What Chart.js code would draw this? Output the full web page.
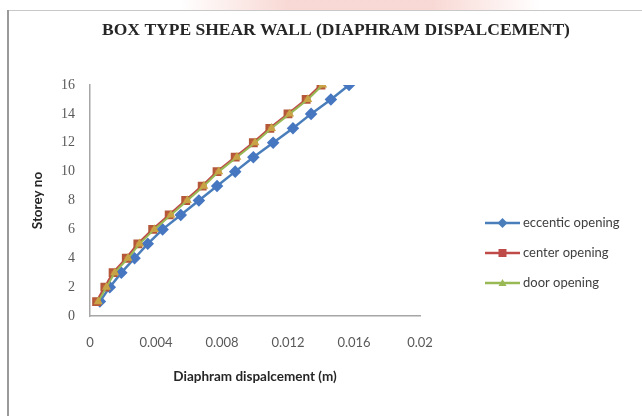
<!DOCTYPE html>
<html>
<head>
<meta charset="utf-8">
<script src="https://cdn.jsdelivr.net/npm/chart.js@4/dist/chart.umd.min.js"></script>
<style>
  html, body { margin: 0; padding: 0; background: #fff; }
  #wrap { position: relative; width: 642px; height: 416px; }
</style>
</head>
<body>
<div id="wrap"><canvas id="c" width="642" height="416"></canvas></div>
<script>
// Storey numbers and diaphragm displacement (m) per storey
const storeys = [1, 2, 3, 4, 5, 6, 7, 8, 9, 10, 11, 12, 13, 14, 15, 16];
const eccentricOpening = [0.0006, 0.0012, 0.0019, 0.0027, 0.0035, 0.0044, 0.0055, 0.0066,
                          0.0077, 0.0088, 0.0099, 0.0111, 0.0123, 0.0134, 0.0146, 0.0157];
const centerOpening = [0.0004, 0.0009, 0.0014, 0.0022, 0.0029, 0.0038, 0.0048, 0.0058,
                       0.0068, 0.0077, 0.0088, 0.0099, 0.0109, 0.0120, 0.0131, 0.0140];
const doorOpening = [0.0005, 0.0010, 0.0015, 0.0023, 0.0030, 0.0039, 0.0049, 0.0059,
                     0.0069, 0.0078, 0.0089, 0.0100, 0.0110, 0.0121, 0.0132, 0.0141];
const xTickLabels = ['0', '0.004', '0.008', '0.012', '0.016', '0.02'];
const yTickLabels = ['0', '2', '4', '6', '8', '10', '12', '14', '16'];
const seriesNames = ['eccentic opening', 'center opening', 'door opening'];

const BLUE = '#4A7EBB', RED = '#BE4B48', GREEN = '#98B954';

const toPoints = vals => vals.map((v, i) => ({ x: v, y: storeys[i] }));

// Frame, title and legend drawn around the plot
const decor = {
  id: 'decor',
  beforeDraw(chart) {
    const ctx = chart.ctx;
    ctx.save();
    ctx.fillStyle = '#ffffff';
    ctx.fillRect(0, 0, chart.width, chart.height);
    // faint band above the chart frame
    const g = ctx.createLinearGradient(180, 0, 540, 0);
    g.addColorStop(0, 'rgba(240,170,160,0)');
    g.addColorStop(0.3, 'rgba(240,170,160,0.45)');
    g.addColorStop(0.7, 'rgba(240,170,160,0.45)');
    g.addColorStop(1, 'rgba(240,170,160,0)');
    ctx.fillStyle = g;
    ctx.fillRect(180, 0, 360, 10);
    ctx.strokeStyle = '#c8c8c8';
    ctx.lineWidth = 1;
    ctx.beginPath();
    ctx.moveTo(8, 10.5); ctx.lineTo(chart.width, 10.5);
    ctx.stroke();
    ctx.strokeStyle = '#9a9a9a';
    ctx.lineWidth = 2;
    ctx.beginPath();
    ctx.moveTo(8, 10); ctx.lineTo(8, chart.height);
    ctx.stroke();
    ctx.restore();
  },
  afterDraw(chart) {
    const ctx = chart.ctx;
    ctx.save();
    // title
    ctx.fillStyle = '#262626';
    ctx.font = 'bold 17.5px "Liberation Serif", "Times New Roman", serif';
    ctx.textAlign = 'center';
    ctx.textBaseline = 'middle';
    ctx.fillText('BOX TYPE SHEAR WALL (DIAPHRAM DISPALCEMENT)', 336, 30);
    // legend
    const rows = [223, 253, 283];
    const legendOrder = [0, 1, 2];
    legendOrder.forEach((di, i) => {
      const ds = chart.data.datasets[di];
      const y = rows[i];
      ctx.strokeStyle = ds.borderColor;
      ctx.lineWidth = 2.5;
      ctx.beginPath();
      ctx.moveTo(485, y); ctx.lineTo(520, y);
      ctx.stroke();
      ctx.fillStyle = ds.legendMarker;
      const cx = 502.5, r = 4;
      ctx.beginPath();
      if (ds.pointStyle === 'rectRot') {
        ctx.moveTo(cx, y - r - 1); ctx.lineTo(cx + r + 1, y); ctx.lineTo(cx, y + r + 1); ctx.lineTo(cx - r - 1, y);
      } else if (ds.pointStyle === 'rect') {
        ctx.rect(cx - r, y - r, 2 * r, 2 * r);
      } else {
        ctx.moveTo(cx, y - r); ctx.lineTo(cx + r, y + r - 1); ctx.lineTo(cx - r, y + r - 1);
      }
      ctx.closePath();
      ctx.fill();
      ctx.fillStyle = '#404040';
      ctx.font = '13px Lato, "Open Sans", sans-serif';
      ctx.textAlign = 'left';
      ctx.textBaseline = 'middle';
      ctx.fillText(ds.label, 523, y);
    });
    ctx.restore();
  }
};

new Chart(document.getElementById('c'), {
  type: 'scatter',
  data: {
    datasets: [
      { label: seriesNames[0], data: toPoints(eccentricOpening), showLine: true, order: 3,
        borderColor: BLUE, backgroundColor: BLUE, pointBackgroundColor: '#4677C0', pointBorderColor: '#4677C0',
        legendMarker: BLUE, pointStyle: 'rectRot', pointRadius: 4.5, borderWidth: 2.5 },
      { label: seriesNames[1], data: toPoints(centerOpening), showLine: true, order: 2,
        borderColor: RED, backgroundColor: RED, pointBackgroundColor: '#C66A3C', pointBorderColor: '#B5583A',
        legendMarker: RED, pointStyle: 'rect', pointRadius: 4.5, borderWidth: 2.5 },
      { label: seriesNames[2], data: toPoints(doorOpening), showLine: true, order: 1,
        borderColor: GREEN, backgroundColor: GREEN, pointBackgroundColor: '#C8A446', pointBorderColor: '#C8A446',
        legendMarker: GREEN, pointStyle: 'triangle', pointRadius: 3.2, borderWidth: 2 }
    ]
  },
  options: {
    responsive: false,
    animation: false,
    events: [],
    layout: { padding: { left: 20, right: 222, top: 85, bottom: 0 } },
    plugins: { legend: { display: false }, title: { display: false }, tooltip: { enabled: false } },
    scales: {
      x: {
        type: 'linear', min: 0, max: 0.02,
        afterBuildTicks(scale) {
          scale.ticks = xTickLabels.map(t => ({ value: Number(t) }));
        },
        afterFit(scale) { scale.height = 100; },
        grid: { display: true, drawOnChartArea: false, drawTicks: false, color: 'transparent' },
        border: { display: true, color: '#a6a6a6', width: 1.5 },
        ticks: {
          padding: 19,
          color: '#595959',
          font: { family: 'Lato, "Open Sans", sans-serif', size: 13 },
          callback: (v, i) => xTickLabels[i]
        },
        title: {
          display: true, text: 'Diaphram dispalcement (m)', color: '#262626',
          font: { family: 'Lato, "Open Sans", sans-serif', size: 13.5, weight: 'bold' },
          padding: { top: 0, bottom: 31 }
        }
      },
      y: {
        type: 'linear', min: 0, max: 16,
        afterBuildTicks(scale) {
          scale.ticks = yTickLabels.map(t => ({ value: Number(t) }));
        },
        afterFit(scale) { scale.width = 70; },
        grid: { display: true, drawOnChartArea: false, drawTicks: false, color: 'transparent' },
        border: { display: true, color: '#a6a6a6', width: 1.5 },
        ticks: {
          padding: 15,
          color: '#595959',
          font: { family: '"Liberation Serif", "Times New Roman", serif', size: 14 },
          callback: (v, i) => yTickLabels[i]
        },
        title: {
          display: true, text: 'Storey no', color: '#262626',
          font: { family: 'Lato, "Open Sans", sans-serif', size: 13.5, weight: 'bold' },
          padding: { top: 10, bottom: 0 }
        }
      }
    }
  },
  plugins: [decor]
});
</script>
</body>
</html>
